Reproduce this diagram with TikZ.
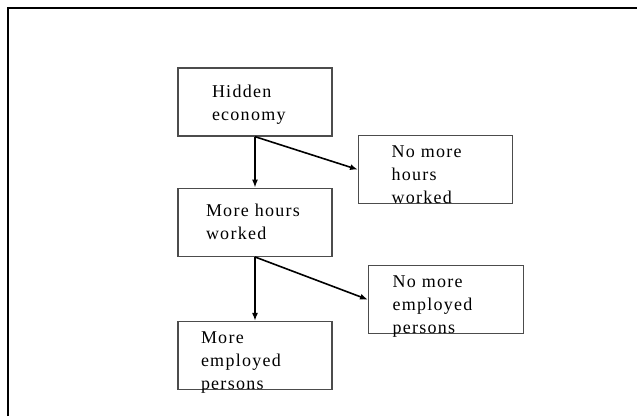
\documentclass[tikz,border=0pt]{standalone}
\usepackage{fontspec}
\setmainfont{Liberation Serif}[LetterSpace=7]
\usepackage{tikz}
\usetikzlibrary{arrows.meta,positioning}

\begin{document}
\begin{tikzpicture}[
    x=1pt, y=-1pt,
    font=\fontsize{18}{23}\selectfont,
    box/.style={rectangle, draw=black!70, line width=1.3pt, minimum width=154pt, minimum height=68pt, inner sep=0pt, align=left},
    three/.style={box, text depth=37pt},
    arrow/.style={-{Latex[length=8pt,width=6pt]}, line width=1.6pt, draw=black}
]
    \useasboundingbox (0,0) rectangle (637,416);
    % open frame, left and top sides only
    \draw [line width=2.6pt] (8,416) -- (8,8) -- (637,8);

    \node (hidden) [box, text width=86pt, text depth=21pt] at (255,102) {Hidden\\economy};
    \node (hours) [box, text width=98pt, below=51pt of hidden] {More hours\\worked};
    \node (persons) [three, text width=108pt, below=64pt of hours] {More\\employed\\persons};
    \node (nohours) [three, text width=88pt, anchor=north west] at (358,135) {No more\\hours\\worked};
    \node (nopersons) [three, text width=107pt, minimum width=155pt, anchor=north west] at (368,265) {No more\\employed\\persons};

    \draw [arrow] (hidden.south) -- (hours.north);
    \draw [arrow] (hidden.south) -- (nohours.west);
    \draw [arrow] (hours.south) -- (persons.north);
    \draw [arrow] (hours.south) -- (nopersons.west);
\end{tikzpicture}
\end{document}
